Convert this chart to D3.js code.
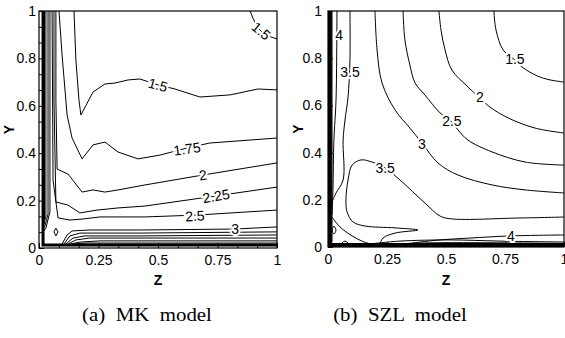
<!DOCTYPE html>
<html>
<head>
<meta charset="utf-8">
<script src="https://cdn.jsdelivr.net/npm/d3@7"></script>
<style>
  html, body { margin: 0; padding: 0; background: #fff; }
  svg { display: block; }
</style>
</head>
<body>
<svg id="chart" width="565" height="338"></svg>
<script>
// ---- axis ticks ----
const zTicks = [0, 0.25, 0.5, 0.75, 1];
const zTickLabels = ["0", "0.25", "0.5", "0.75", "1"];
const zMinor = [0.0833, 0.1667, 0.3333, 0.4167, 0.5833, 0.6667, 0.8333, 0.9167];
const yTicks = [0, 0.2, 0.4, 0.6, 0.8, 1];
const yTickLabels = ["0", "0.2", "0.4", "0.6", "0.8", "1"];
const yMinor = [0.0667, 0.1333, 0.2667, 0.3333, 0.4667, 0.5333, 0.6667, 0.7333, 0.8667, 0.9333];
const captions = ["(a)  MK  model", "(b)  SZL  model"];

// ---- (a) MK model contour lines, [z, y] ----
const mk150a = [[0.147,1.0],[0.155,0.793],[0.168,0.624],[0.176,0.561],[0.227,0.658],[0.277,0.692],[0.319,0.696],[0.374,0.709],[0.424,0.713],[0.500,0.688],[0.571,0.671],[0.676,0.637],[0.803,0.646],[0.920,0.671],[1.0,0.667]];
const mk150b = [[0.887,1.0],[0.899,0.970],[0.920,0.928],[0.950,0.899],[1.0,0.882]];
const mk175 = [[0.084,1.0],[0.097,0.814],[0.118,0.561],[0.139,0.464],[0.181,0.376],[0.227,0.435],[0.277,0.447],[0.332,0.405],[0.416,0.376],[0.508,0.392],[0.622,0.422],[0.718,0.443],[1.0,0.464]];
const mk200 = [[0.071,1.0],[0.071,0.624],[0.076,0.333],[0.122,0.312],[0.181,0.236],[0.227,0.245],[0.277,0.236],[0.332,0.245],[0.445,0.266],[0.689,0.308],[1.0,0.359]];
const mk225 = [[0.063,1.0],[0.063,0.624],[0.071,0.194],[0.122,0.181],[0.172,0.148],[0.244,0.160],[0.332,0.169],[0.445,0.177],[0.739,0.219],[1.0,0.257]];
const mk250 = [[0.055,1.0],[0.059,0.287],[0.080,0.127],[0.130,0.118],[0.181,0.122],[0.256,0.131],[0.445,0.131],[0.664,0.139],[1.0,0.160]];
const mk300 = [[0.097,0.017],[0.118,0.055],[0.139,0.072],[0.214,0.076],[0.424,0.076],[0.824,0.080],[1.0,0.089]];
const mkB2 = [[0.105,0.017],[0.130,0.051],[0.172,0.063],[0.424,0.063],[1.0,0.068]];
const mkB3 = [[0.113,0.017],[0.143,0.042],[0.193,0.051],[0.424,0.051],[1.0,0.055]];
const mkB4 = [[0.122,0.017],[0.155,0.034],[0.214,0.042],[1.0,0.042]];
const mkB5 = [[0.134,0.017],[0.172,0.025],[0.256,0.030],[1.0,0.030]];
const mkB6 = [[0.147,0.017],[0.193,0.021],[1.0,0.021]];
const mkW1 = [[0.046,1.0],[0.046,0.152],[0.029,0.084],[0.017,0.068]];
const mkW2 = [[0.038,1.0],[0.038,0.143],[0.025,0.093],[0.017,0.080]];
const mkW3 = [[0.029,1.0],[0.029,0.135],[0.021,0.101]];
const mkW4 = [[0.023,1.0],[0.023,0.120]];
const mkDiamond = [[0.071,0.084],[0.080,0.068],[0.071,0.051],[0.063,0.068],[0.071,0.084]];
const mkWall = [[0.017,1.0],[0.017,0.013],[1.0,0.013]];
const mkLabels = [["1.5",0.500,0.688],["1.5",0.933,0.916],["1.75",0.622,0.418],["2",0.689,0.308],["2.25",0.744,0.219],["2.5",0.655,0.135],["3",0.824,0.078]];
const mkLabelAngles = [15, 40, -8, -8, -10, -3, 0];

// ---- (b) SZL model contour lines, [z, y] ----
const szl150 = [[0.703,1.0],[0.712,0.919],[0.742,0.835],[0.792,0.792],[0.822,0.763],[0.886,0.725],[0.941,0.708],[1.0,0.699]];
const szl200 = [[0.470,1.0],[0.479,0.919],[0.496,0.835],[0.525,0.750],[0.589,0.682],[0.644,0.631],[0.686,0.593],[0.763,0.547],[0.877,0.504],[1.0,0.483]];
const szl250 = [[0.318,1.0],[0.326,0.877],[0.347,0.771],[0.369,0.695],[0.411,0.644],[0.475,0.568],[0.521,0.534],[0.551,0.496],[0.593,0.453],[0.695,0.403],[0.835,0.360],[1.0,0.347]];
const szl300 = [[0.199,1.0],[0.208,0.835],[0.229,0.695],[0.284,0.581],[0.347,0.504],[0.398,0.441],[0.466,0.356],[0.551,0.305],[0.695,0.263],[0.835,0.242],[1.0,0.229]];
const szl350a = [[0.093,1.0],[0.093,0.792],[0.085,0.636],[0.072,0.538],[0.064,0.453],[0.064,0.284],[0.034,0.229],[0.021,0.199]];
const szl350b = [[1.0,0.127],[0.814,0.123],[0.525,0.119],[0.475,0.131],[0.411,0.186],[0.305,0.284],[0.242,0.335],[0.186,0.360],[0.140,0.369],[0.102,0.347],[0.085,0.284],[0.076,0.199],[0.081,0.148],[0.106,0.106],[0.157,0.089],[0.284,0.081],[0.381,0.072],[0.284,0.059],[0.233,0.038],[0.220,0.013]];
const szl400a = [[0.038,1.0],[0.034,0.623],[0.025,0.453],[0.021,0.242],[0.017,0.136]];
const szl400b = [[1.0,0.051],[0.775,0.047],[0.602,0.038],[0.475,0.030],[0.390,0.021],[0.326,0.013]];
const szlC1 = [[0.017,0.127],[0.051,0.085],[0.102,0.047],[0.144,0.025],[0.178,0.013]];
const szlDiamond = [[0.025,0.089],[0.034,0.072],[0.025,0.055],[0.017,0.072],[0.025,0.089]];
const szlBump = [[0.051,0.008],[0.072,0.025],[0.093,0.008]];
const szlB1 = [[0.178,0.013],[0.305,0.025],[0.517,0.030],[0.729,0.025],[1.0,0.021]];
const szlB2 = [[0.250,0.008],[0.400,0.017],[1.0,0.015]];
const szlW1 = [[0.017,1.0],[0.017,0.02]];
const szlWall = [[0.008,1.0],[0.008,0.008],[1.0,0.008]];
const szlLabels = [["4",0.047,0.898],["3.5",0.093,0.742],["3",0.398,0.436],["2.5",0.525,0.534],["2",0.644,0.636],["1.5",0.792,0.797],["3.5",0.242,0.335],["4",0.775,0.047]];
const szlLabelAngles = [0, 0, 0, 0, 0, 0, 0, 0];

const panels = [
  { id: "mk", box: { left: 39, top: 11, right: 277, bottom: 248 }, yPad: 3, capX: 147,
    lines: [mk150a, mk150b, mk175, mk200, mk225, mk250, mk300, mkB2, mkB3, mkB4, mkB5, mkB6, mkW1, mkW2, mkW3, mkW4, mkDiamond],
    wall: mkWall, wallWidth: 3, labels: mkLabels, angles: mkLabelAngles, curve: d3.curveLinear, caption: captions[0] },
  { id: "szl", box: { left: 328, top: 11, right: 564, bottom: 247 }, yPad: 6, capX: 400,
    lines: [szl150, szl200, szl250, szl300, szl350a, szl350b, szl400a, szl400b, szlC1, szlDiamond, szlBump, szlB1, szlB2, szlW1],
    wall: szlWall, wallWidth: 4, labels: szlLabels, angles: szlLabelAngles, curve: d3.curveCatmullRom.alpha(0.5), caption: captions[1] }
];

const svg = d3.select("#chart");
svg.append("rect").attr("width", 565).attr("height", 338).attr("fill", "#fff");
const sans = "'Liberation Sans', Arial, sans-serif";

panels.forEach(function (p) {
  const b = p.box;
  const x = d3.scaleLinear().domain([0, 1]).range([b.left, b.right]);
  const y = d3.scaleLinear().domain([0, 1]).range([b.bottom, b.top]);
  const g = svg.append("g");

  g.append("clipPath").attr("id", "clip-" + p.id)
    .append("rect").attr("x", b.left).attr("y", b.top)
    .attr("width", b.right - b.left).attr("height", b.bottom - b.top);

  const line = d3.line().x(d => x(d[0])).y(d => y(d[1])).curve(p.curve);
  const plot = g.append("g").attr("clip-path", "url(#clip-" + p.id + ")");

  plot.selectAll("path.c").data(p.lines).enter().append("path")
    .attr("class", "c")
    .attr("d", line)
    .attr("fill", "none").attr("stroke", "#000").attr("stroke-width", 1);

  plot.append("path").datum(p.wall)
    .attr("d", d3.line().x(d => x(d[0])).y(d => y(d[1])))
    .attr("fill", "none").attr("stroke", "#000").attr("stroke-width", p.wallWidth);

  // contour labels with white halo to break the line
  plot.selectAll("text.lab").data(p.labels).enter().append("text")
    .attr("class", "lab")
    .attr("transform", (d, i) => "translate(" + x(d[1]) + "," + y(d[2]) + ") rotate(" + p.angles[i] + ")")
    .attr("text-anchor", "middle").attr("dy", "0.35em")
    .attr("font-family", sans).attr("font-size", 14)
    .attr("stroke", "#fff").attr("stroke-width", 4).attr("paint-order", "stroke")
    .attr("fill", "#000")
    .text(d => d[0]);

  // axes: inward ticks
  g.append("g").attr("transform", "translate(0," + b.bottom + ")")
    .call(d3.axisBottom(x).tickValues(zTicks).tickFormat((d, i) => zTickLabels[i])
      .tickSize(-5).tickSizeOuter(0).tickPadding(7));
  g.append("g").attr("transform", "translate(0," + b.bottom + ")")
    .call(d3.axisBottom(x).tickValues(zMinor).tickFormat("").tickSize(-3).tickSizeOuter(0));
  g.append("g").attr("transform", "translate(" + b.left + ",0)")
    .call(d3.axisLeft(y).tickValues(yTicks).tickFormat((d, i) => yTickLabels[i])
      .tickSize(-5).tickSizeOuter(0).tickPadding(p.yPad));
  g.append("g").attr("transform", "translate(" + b.left + ",0)")
    .call(d3.axisLeft(y).tickValues(yMinor).tickFormat("").tickSize(-3).tickSizeOuter(0));

  g.selectAll(".domain").remove();
  g.selectAll(".tick line").attr("stroke", "#000");
  g.selectAll(".tick text").attr("font-family", sans).attr("font-size", 14).attr("fill", "#000");

  g.append("rect").attr("x", b.left).attr("y", b.top)
    .attr("width", b.right - b.left).attr("height", b.bottom - b.top)
    .attr("fill", "none").attr("stroke", "#000").attr("stroke-width", 1.2);

  const cx = (b.left + b.right) / 2;
  g.append("text").attr("x", cx).attr("y", 285)
    .attr("text-anchor", "middle").attr("font-family", sans)
    .attr("font-size", 14).attr("font-weight", "bold").text("Z");
  g.append("text").attr("transform", "translate(" + (b.left - 25) + "," + ((b.top + b.bottom) / 2) + ") rotate(-90)")
    .attr("text-anchor", "middle").attr("font-family", sans)
    .attr("font-size", 14).attr("font-weight", "bold").text("Y");

  // caption, widened horizontally like the original serif face
  g.append("text")
    .attr("transform", "translate(" + p.capX + ",321) scale(1.16,1)")
    .attr("text-anchor", "middle")
    .attr("font-family", "'Liberation Serif', 'DejaVu Serif', serif")
    .attr("font-size", 18)
    .style("white-space", "pre")
    .text(p.caption);
});
</script>
</body>
</html>
